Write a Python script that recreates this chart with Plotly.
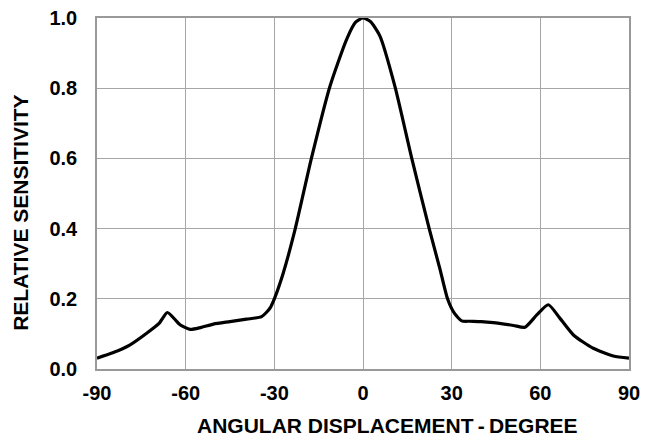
import plotly.graph_objects as go

# Angular response
angle = [-90, -84.7, -78.8, -73.2, -69, -66.2, -63.5, -61.9, -58.5, -55, -50.6, -45,
         -39.4, -34.3, -31.5, -30, -27, -23, -17.4, -11.2, -5.5, -2.5, 0, 2.5, 5.7,
         10.8, 16.5, 22.4, 26, 28.6, 30.9, 33.4, 36, 40, 44.1, 50.9, 54.8, 58.8,
         62.7, 66.6, 71.2, 77.9, 84.7, 90]
sensitivity = [0.031, 0.046, 0.069, 0.102, 0.13, 0.161, 0.14, 0.126, 0.113, 0.118,
               0.128, 0.135, 0.142, 0.149, 0.173, 0.2, 0.273, 0.397, 0.602, 0.805,
               0.94, 0.988, 1.0, 0.99, 0.949, 0.805, 0.6, 0.4, 0.286, 0.2, 0.159,
               0.137, 0.136, 0.135, 0.132, 0.124, 0.119, 0.154, 0.183, 0.145, 0.097,
               0.059, 0.037, 0.031]

x_ticks = [-90, -60, -30, 0, 30, 60, 90]
y_ticks = [0.0, 0.2, 0.4, 0.6, 0.8, 1.0]

FONT = "Liberation Sans, Arial, sans-serif"

fig = go.Figure()
fig.add_trace(go.Scatter(
    x=angle,
    y=sensitivity,
    mode="lines",
    line=dict(color="black", width=3.2, shape="spline", smoothing=0.6),
    showlegend=False,
))

axis_common = dict(
    automargin=False,
    showgrid=True,
    gridcolor="#a6a6a6",
    gridwidth=1,
    showline=True,
    linecolor="#999999",
    linewidth=1.5,
    mirror=True,
    zeroline=False,
    ticks="",
    ticklabeloverflow="allow",
    tickfont=dict(family=FONT, size=20, color="black"),
)

fig.update_xaxes(
    range=[-90, 90],
    tickvals=x_ticks,
    ticktext=[f"<b>{v}</b>" for v in x_ticks],
    ticklabelstandoff=5,
    **axis_common,
)
fig.update_yaxes(
    range=[0, 1],
    tickvals=y_ticks,
    ticktext=[f"<b>{v:.1f}</b>" for v in y_ticks],
    ticklabelstandoff=14,
    **axis_common,
)

# axis titles as annotations: in the reference they sit off-centre
title_font = dict(family=FONT, size=21, color="black")
fig.add_annotation(
    text="<b>ANGULAR DISPLACEMENT\u2009-\u2009DEGREE</b>",
    xref="paper", yref="paper", x=0.546, y=-0.16,
    xanchor="center", yanchor="middle", showarrow=False, font=title_font,
)
fig.add_annotation(
    text="<b>RELATIVE SENSITIVITY</b>",
    xref="paper", yref="paper", x=-0.144, y=0.446, textangle=-90,
    xanchor="center", yanchor="middle", showarrow=False, font=title_font,
)

# the page sits about 8 px in from the top-left corner, so the margins compensate
fig.update_layout(
    width=655,
    height=440,
    margin=dict(l=89, r=34, t=10, b=79),
    plot_bgcolor="white",
    paper_bgcolor="white",
)

fig.write_html("out.html")
